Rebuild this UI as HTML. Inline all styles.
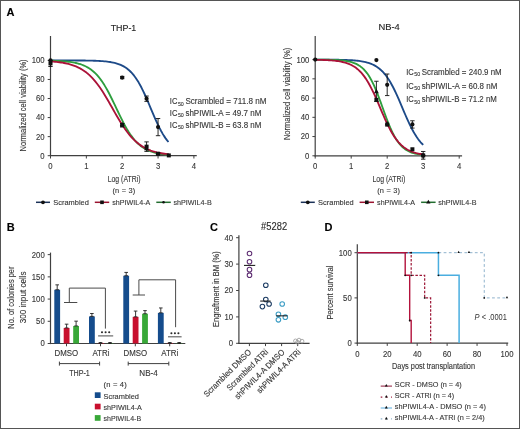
<!DOCTYPE html>
<html><head><meta charset="utf-8"><style>
html,body{margin:0;padding:0;background:#fff;}
svg{display:block;will-change:transform;}
text{font-family:"Liberation Sans", sans-serif;}
</style></head><body>
<svg width="520" height="429" viewBox="0 0 520 429" font-family='"Liberation Sans", sans-serif'>
<rect width="520" height="429" fill="#fff"/>
<rect x="0.5" y="0.5" width="519" height="428" fill="none" stroke="#555" stroke-width="1"/>
<text x="6.6" y="15.9" font-size="11" fill="#000" stroke="#000" stroke-width="0.12" font-weight="bold">A</text>
<text x="6.8" y="231" font-size="11" fill="#000" stroke="#000" stroke-width="0.12" font-weight="bold">B</text>
<text x="210" y="231.3" font-size="11" fill="#000" stroke="#000" stroke-width="0.12" font-weight="bold">C</text>
<text x="324.6" y="231.2" font-size="11" fill="#000" stroke="#000" stroke-width="0.12" font-weight="bold">D</text>
<line x1="50.5" y1="36" x2="50.5" y2="156.3" stroke="#404040" stroke-width="1.2"/>
<line x1="49.9" y1="155.7" x2="196.77" y2="155.7" stroke="#404040" stroke-width="1.2"/>
<line x1="47.7" y1="155.7" x2="50.5" y2="155.7" stroke="#404040" stroke-width="1"/>
<text x="44.6" y="158.6" font-size="8.3" fill="#363636" stroke="#363636" stroke-width="0.12" text-anchor="end" textLength="4.3" lengthAdjust="spacingAndGlyphs">0</text>
<line x1="47.7" y1="136.64" x2="50.5" y2="136.64" stroke="#404040" stroke-width="1"/>
<text x="44.6" y="139.54" font-size="8.3" fill="#363636" stroke="#363636" stroke-width="0.12" text-anchor="end" textLength="8.6" lengthAdjust="spacingAndGlyphs">20</text>
<line x1="47.7" y1="117.58" x2="50.5" y2="117.58" stroke="#404040" stroke-width="1"/>
<text x="44.6" y="120.48" font-size="8.3" fill="#363636" stroke="#363636" stroke-width="0.12" text-anchor="end" textLength="8.6" lengthAdjust="spacingAndGlyphs">40</text>
<line x1="47.7" y1="98.52" x2="50.5" y2="98.52" stroke="#404040" stroke-width="1"/>
<text x="44.6" y="101.42" font-size="8.3" fill="#363636" stroke="#363636" stroke-width="0.12" text-anchor="end" textLength="8.6" lengthAdjust="spacingAndGlyphs">60</text>
<line x1="47.7" y1="79.46" x2="50.5" y2="79.46" stroke="#404040" stroke-width="1"/>
<text x="44.6" y="82.36" font-size="8.3" fill="#363636" stroke="#363636" stroke-width="0.12" text-anchor="end" textLength="8.6" lengthAdjust="spacingAndGlyphs">80</text>
<line x1="47.7" y1="60.4" x2="50.5" y2="60.4" stroke="#404040" stroke-width="1"/>
<text x="44.6" y="63.3" font-size="8.3" fill="#363636" stroke="#363636" stroke-width="0.12" text-anchor="end" textLength="12.9" lengthAdjust="spacingAndGlyphs">100</text>
<line x1="50.5" y1="155.7" x2="50.5" y2="158.5" stroke="#404040" stroke-width="1"/>
<text x="50.5" y="168.8" font-size="8.3" fill="#363636" stroke="#363636" stroke-width="0.12" text-anchor="middle" textLength="4.3" lengthAdjust="spacingAndGlyphs">0</text>
<line x1="86.35" y1="155.7" x2="86.35" y2="158.5" stroke="#404040" stroke-width="1"/>
<text x="86.35" y="168.8" font-size="8.3" fill="#363636" stroke="#363636" stroke-width="0.12" text-anchor="middle" textLength="4.3" lengthAdjust="spacingAndGlyphs">1</text>
<line x1="122.2" y1="155.7" x2="122.2" y2="158.5" stroke="#404040" stroke-width="1"/>
<text x="122.2" y="168.8" font-size="8.3" fill="#363636" stroke="#363636" stroke-width="0.12" text-anchor="middle" textLength="4.3" lengthAdjust="spacingAndGlyphs">2</text>
<line x1="158.05" y1="155.7" x2="158.05" y2="158.5" stroke="#404040" stroke-width="1"/>
<text x="158.05" y="168.8" font-size="8.3" fill="#363636" stroke="#363636" stroke-width="0.12" text-anchor="middle" textLength="4.3" lengthAdjust="spacingAndGlyphs">3</text>
<line x1="193.9" y1="155.7" x2="193.9" y2="158.5" stroke="#404040" stroke-width="1"/>
<text x="193.9" y="168.8" font-size="8.3" fill="#363636" stroke="#363636" stroke-width="0.12" text-anchor="middle" textLength="4.3" lengthAdjust="spacingAndGlyphs">4</text>
<text x="110.7" y="31.1" font-size="9.6" fill="#222" stroke="#222" stroke-width="0.12" textLength="25.6" lengthAdjust="spacingAndGlyphs">THP-1</text>
<text x="26.2" y="105.4" font-size="8.4" fill="#363636" stroke="#363636" stroke-width="0.12" text-anchor="middle" textLength="92" lengthAdjust="spacingAndGlyphs" transform="rotate(-90 26.2 105.4)">Normalized cell viability (%)</text>
<text x="124.1" y="181.9" font-size="9.5" fill="#363636" stroke="#363636" stroke-width="0.12" text-anchor="middle" textLength="32.8" lengthAdjust="spacingAndGlyphs">Log (ATRi)</text>
<text x="123.8" y="193.3" font-size="7.4" fill="#363636" stroke="#363636" stroke-width="0.12" text-anchor="middle" textLength="22.8" lengthAdjust="spacing">(n = 3)</text>
<path d="M50.5,60.4 L51.99,60.4 L53.49,60.41 L54.98,60.41 L56.47,60.41 L57.96,60.41 L59.46,60.41 L60.95,60.41 L62.44,60.41 L63.94,60.42 L65.43,60.42 L66.92,60.42 L68.42,60.43 L69.91,60.43 L71.4,60.43 L72.89,60.44 L74.39,60.45 L75.88,60.45 L77.37,60.46 L78.87,60.47 L80.36,60.48 L81.85,60.5 L83.35,60.51 L84.84,60.53 L86.33,60.55 L87.82,60.58 L89.32,60.6 L90.81,60.64 L92.3,60.68 L93.8,60.72 L95.29,60.77 L96.78,60.83 L98.28,60.9 L99.77,60.98 L101.26,61.07 L102.75,61.18 L104.25,61.31 L105.74,61.45 L107.23,61.62 L108.73,61.81 L110.22,62.03 L111.71,62.29 L113.21,62.59 L114.7,62.93 L116.19,63.33 L117.68,63.79 L119.18,64.31 L120.67,64.91 L122.16,65.6 L123.66,66.39 L125.15,67.28 L126.64,68.3 L128.14,69.46 L129.63,70.76 L131.12,72.22 L132.61,73.86 L134.11,75.68 L135.6,77.7 L137.09,79.92 L138.59,82.35 L140.08,84.98 L141.57,87.8 L143.07,90.81 L144.56,93.99 L146.05,97.31 L147.54,100.74 L149.04,104.26 L150.53,107.81 L152.02,111.37 L153.52,114.9 L155.01,118.34 L156.5,121.68 L158,124.88 L159.49,127.91 L160.98,130.76 L162.47,133.42 L163.97,135.87 L165.46,138.12 L166.95,140.16 L168.45,142.01" stroke="#1d4a88" stroke-width="1.85" fill="none" stroke-linejoin="round"/>
<path d="M50.5,60.68 L52,60.72 L53.5,60.76 L54.99,60.82 L56.49,60.87 L57.99,60.94 L59.49,61.02 L60.98,61.11 L62.48,61.2 L63.98,61.32 L65.48,61.45 L66.97,61.59 L68.47,61.76 L69.97,61.95 L71.47,62.17 L72.96,62.41 L74.46,62.69 L75.96,63.01 L77.46,63.37 L78.95,63.77 L80.45,64.23 L81.95,64.75 L83.45,65.33 L84.94,65.99 L86.44,66.74 L87.94,67.57 L89.44,68.5 L90.93,69.54 L92.43,70.69 L93.93,71.98 L95.43,73.4 L96.92,74.96 L98.42,76.67 L99.92,78.54 L101.42,80.58 L102.91,82.77 L104.41,85.12 L105.91,87.62 L107.41,90.28 L108.9,93.06 L110.4,95.97 L111.9,98.98 L113.4,102.06 L114.89,105.19 L116.39,108.35 L117.89,111.51 L119.39,114.63 L120.88,117.7 L122.38,120.69 L123.88,123.58 L125.38,126.34 L126.87,128.96 L128.37,131.44 L129.87,133.76 L131.37,135.92 L132.86,137.92 L134.36,139.76 L135.86,141.45 L137.36,142.98 L138.85,144.38 L140.35,145.64 L141.85,146.77 L143.35,147.79 L144.84,148.7 L146.34,149.51 L147.84,150.24 L149.34,150.88 L150.83,151.45 L152.33,151.96 L153.83,152.41 L155.33,152.81 L156.82,153.16 L158.32,153.47 L159.82,153.74 L161.32,153.98 L162.81,154.19 L164.31,154.37 L165.81,154.54 L167.31,154.68 L168.81,154.8" stroke="#2e9e3e" stroke-width="1.85" fill="none" stroke-linejoin="round"/>
<path d="M50.5,61.36 L52,61.47 L53.5,61.6 L54.99,61.74 L56.49,61.89 L57.99,62.07 L59.49,62.26 L60.98,62.47 L62.48,62.71 L63.98,62.97 L65.48,63.26 L66.97,63.59 L68.47,63.95 L69.97,64.35 L71.47,64.79 L72.96,65.28 L74.46,65.82 L75.96,66.42 L77.46,67.08 L78.95,67.8 L80.45,68.6 L81.95,69.47 L83.45,70.42 L84.94,71.46 L86.44,72.6 L87.94,73.83 L89.44,75.16 L90.93,76.6 L92.43,78.15 L93.93,79.81 L95.43,81.59 L96.92,83.47 L98.42,85.47 L99.92,87.58 L101.42,89.79 L102.91,92.09 L104.41,94.48 L105.91,96.95 L107.41,99.49 L108.9,102.07 L110.4,104.69 L111.9,107.33 L113.4,109.98 L114.89,112.61 L116.39,115.22 L117.89,117.78 L119.39,120.29 L120.88,122.72 L122.38,125.07 L123.88,127.34 L125.38,129.5 L126.87,131.55 L128.37,133.5 L129.87,135.34 L131.37,137.06 L132.86,138.67 L134.36,140.17 L135.86,141.56 L137.36,142.85 L138.85,144.03 L140.35,145.12 L141.85,146.12 L143.35,147.04 L144.84,147.87 L146.34,148.64 L147.84,149.33 L149.34,149.96 L150.83,150.53 L152.33,151.05 L153.83,151.51 L155.33,151.94 L156.82,152.32 L158.32,152.66 L159.82,152.97 L161.32,153.25 L162.81,153.5 L164.31,153.73 L165.81,153.93 L167.31,154.12 L168.81,154.28" stroke="#ab1238" stroke-width="1.85" fill="none" stroke-linejoin="round"/>
<line x1="50.5" y1="60.4" x2="50.5" y2="66.5" stroke="#111" stroke-width="0.9"/>
<line x1="48.3" y1="60.4" x2="52.7" y2="60.4" stroke="#111" stroke-width="0.9"/>
<line x1="48.3" y1="66.5" x2="52.7" y2="66.5" stroke="#111" stroke-width="0.9"/>
<rect x="48.5" y="61.45" width="4" height="4" fill="#111"/>
<circle cx="50.5" cy="60.4" r="2.1" fill="#111" stroke="none" stroke-width="1"/>
<line x1="122.2" y1="76.41" x2="122.2" y2="78.7" stroke="#111" stroke-width="0.9"/>
<line x1="120" y1="76.41" x2="124.4" y2="76.41" stroke="#111" stroke-width="0.9"/>
<line x1="120" y1="78.7" x2="124.4" y2="78.7" stroke="#111" stroke-width="0.9"/>
<circle cx="122.2" cy="77.55" r="2.1" fill="#111" stroke="none" stroke-width="1"/>
<line x1="146.58" y1="96.04" x2="146.58" y2="101.38" stroke="#111" stroke-width="0.9"/>
<line x1="144.38" y1="96.04" x2="148.78" y2="96.04" stroke="#111" stroke-width="0.9"/>
<line x1="144.38" y1="101.38" x2="148.78" y2="101.38" stroke="#111" stroke-width="0.9"/>
<circle cx="146.58" cy="98.71" r="2.1" fill="#111" stroke="none" stroke-width="1"/>
<line x1="158.05" y1="118.53" x2="158.05" y2="135.69" stroke="#111" stroke-width="0.9"/>
<line x1="155.85" y1="118.53" x2="160.25" y2="118.53" stroke="#111" stroke-width="0.9"/>
<line x1="155.85" y1="135.69" x2="160.25" y2="135.69" stroke="#111" stroke-width="0.9"/>
<circle cx="158.05" cy="127.11" r="2.1" fill="#111" stroke="none" stroke-width="1"/>
<line x1="122.2" y1="123.49" x2="122.2" y2="126.92" stroke="#111" stroke-width="0.9"/>
<line x1="120" y1="123.49" x2="124.4" y2="123.49" stroke="#111" stroke-width="0.9"/>
<line x1="120" y1="126.92" x2="124.4" y2="126.92" stroke="#111" stroke-width="0.9"/>
<rect x="120.2" y="123.2" width="4" height="4" fill="#111"/>
<path d="M122.2,121.65 L124.6,126.05 L119.8,126.05 Z" stroke="none" stroke-width="1" fill="#111"/>
<line x1="146.58" y1="141.88" x2="146.58" y2="151.41" stroke="#111" stroke-width="0.9"/>
<line x1="144.38" y1="141.88" x2="148.78" y2="141.88" stroke="#111" stroke-width="0.9"/>
<line x1="144.38" y1="151.41" x2="148.78" y2="151.41" stroke="#111" stroke-width="0.9"/>
<rect x="144.58" y="144.65" width="4" height="4" fill="#111"/>
<path d="M146.58,145.95 L148.98,150.35 L144.18,150.35 Z" stroke="none" stroke-width="1" fill="#111"/>
<line x1="158.05" y1="153.03" x2="158.05" y2="154.56" stroke="#111" stroke-width="0.9"/>
<line x1="155.85" y1="153.03" x2="160.25" y2="153.03" stroke="#111" stroke-width="0.9"/>
<line x1="155.85" y1="154.56" x2="160.25" y2="154.56" stroke="#111" stroke-width="0.9"/>
<rect x="156.05" y="151.79" width="4" height="4" fill="#111"/>
<rect x="166.81" y="153.41" width="4" height="4" fill="#111"/>
<text x="169.8" y="104.2" font-size="8.4" fill="#363636" stroke="#363636" stroke-width="0.12" textLength="7.6" lengthAdjust="spacingAndGlyphs">IC</text>
<text x="177.9" y="105.6" font-size="6.0" fill="#363636" stroke="#363636" stroke-width="0.12" textLength="5.9" lengthAdjust="spacingAndGlyphs">50</text>
<text x="185.4" y="104.2" font-size="8.4" fill="#363636" stroke="#363636" stroke-width="0.12" textLength="81" lengthAdjust="spacingAndGlyphs">Scrambled = 711.8 nM</text>
<text x="169.8" y="115.95" font-size="8.4" fill="#363636" stroke="#363636" stroke-width="0.12" textLength="7.6" lengthAdjust="spacingAndGlyphs">IC</text>
<text x="177.9" y="117.35" font-size="6.0" fill="#363636" stroke="#363636" stroke-width="0.12" textLength="5.9" lengthAdjust="spacingAndGlyphs">50</text>
<text x="185.4" y="115.95" font-size="8.4" fill="#363636" stroke="#363636" stroke-width="0.12" textLength="76" lengthAdjust="spacingAndGlyphs">shPIWIL-A = 49.7 nM</text>
<text x="169.8" y="127.7" font-size="8.4" fill="#363636" stroke="#363636" stroke-width="0.12" textLength="7.6" lengthAdjust="spacingAndGlyphs">IC</text>
<text x="177.9" y="129.1" font-size="6.0" fill="#363636" stroke="#363636" stroke-width="0.12" textLength="5.9" lengthAdjust="spacingAndGlyphs">50</text>
<text x="185.4" y="127.7" font-size="8.4" fill="#363636" stroke="#363636" stroke-width="0.12" textLength="76" lengthAdjust="spacingAndGlyphs">shPIWIL-B = 63.8 nM</text>
<line x1="36" y1="202.3" x2="50" y2="202.3" stroke="#1b3258" stroke-width="1.5"/>
<circle cx="43" cy="202.3" r="1.89" fill="#111" stroke="none" stroke-width="1"/>
<text x="53.3" y="205.1" font-size="8" fill="#363636" stroke="#363636" stroke-width="0.12" textLength="35.6" lengthAdjust="spacingAndGlyphs">Scrambled</text>
<line x1="94.8" y1="202.3" x2="109.2" y2="202.3" stroke="#9a1430" stroke-width="1.5"/>
<rect x="100.2" y="200.5" width="3.6" height="3.6" fill="#111"/>
<text x="112.3" y="205.1" font-size="8" fill="#363636" stroke="#363636" stroke-width="0.12" textLength="38" lengthAdjust="spacingAndGlyphs">shPIWIL4-A</text>
<line x1="156.3" y1="202.3" x2="170.8" y2="202.3" stroke="#236e30" stroke-width="1.5"/>
<circle cx="163.55" cy="202.3" r="1.3" fill="#111" stroke="none" stroke-width="1"/>
<text x="173.4" y="205.1" font-size="8" fill="#363636" stroke="#363636" stroke-width="0.12" textLength="38.3" lengthAdjust="spacingAndGlyphs">shPIWIL4-B</text>
<line x1="315.2" y1="36" x2="315.2" y2="156.4" stroke="#404040" stroke-width="1.2"/>
<line x1="314.6" y1="155.8" x2="462.08" y2="155.8" stroke="#404040" stroke-width="1.2"/>
<line x1="312.4" y1="155.8" x2="315.2" y2="155.8" stroke="#404040" stroke-width="1"/>
<text x="309.3" y="158.7" font-size="8.3" fill="#363636" stroke="#363636" stroke-width="0.12" text-anchor="end" textLength="4.3" lengthAdjust="spacingAndGlyphs">0</text>
<line x1="312.4" y1="136.56" x2="315.2" y2="136.56" stroke="#404040" stroke-width="1"/>
<text x="309.3" y="139.46" font-size="8.3" fill="#363636" stroke="#363636" stroke-width="0.12" text-anchor="end" textLength="8.6" lengthAdjust="spacingAndGlyphs">20</text>
<line x1="312.4" y1="117.32" x2="315.2" y2="117.32" stroke="#404040" stroke-width="1"/>
<text x="309.3" y="120.22" font-size="8.3" fill="#363636" stroke="#363636" stroke-width="0.12" text-anchor="end" textLength="8.6" lengthAdjust="spacingAndGlyphs">40</text>
<line x1="312.4" y1="98.08" x2="315.2" y2="98.08" stroke="#404040" stroke-width="1"/>
<text x="309.3" y="100.98" font-size="8.3" fill="#363636" stroke="#363636" stroke-width="0.12" text-anchor="end" textLength="8.6" lengthAdjust="spacingAndGlyphs">60</text>
<line x1="312.4" y1="78.84" x2="315.2" y2="78.84" stroke="#404040" stroke-width="1"/>
<text x="309.3" y="81.74" font-size="8.3" fill="#363636" stroke="#363636" stroke-width="0.12" text-anchor="end" textLength="8.6" lengthAdjust="spacingAndGlyphs">80</text>
<line x1="312.4" y1="59.6" x2="315.2" y2="59.6" stroke="#404040" stroke-width="1"/>
<text x="309.3" y="62.5" font-size="8.3" fill="#363636" stroke="#363636" stroke-width="0.12" text-anchor="end" textLength="12.9" lengthAdjust="spacingAndGlyphs">100</text>
<line x1="315.2" y1="155.8" x2="315.2" y2="158.6" stroke="#404040" stroke-width="1"/>
<text x="315.2" y="168.9" font-size="8.3" fill="#363636" stroke="#363636" stroke-width="0.12" text-anchor="middle" textLength="4.3" lengthAdjust="spacingAndGlyphs">0</text>
<line x1="351.2" y1="155.8" x2="351.2" y2="158.6" stroke="#404040" stroke-width="1"/>
<text x="351.2" y="168.9" font-size="8.3" fill="#363636" stroke="#363636" stroke-width="0.12" text-anchor="middle" textLength="4.3" lengthAdjust="spacingAndGlyphs">1</text>
<line x1="387.2" y1="155.8" x2="387.2" y2="158.6" stroke="#404040" stroke-width="1"/>
<text x="387.2" y="168.9" font-size="8.3" fill="#363636" stroke="#363636" stroke-width="0.12" text-anchor="middle" textLength="4.3" lengthAdjust="spacingAndGlyphs">2</text>
<line x1="423.2" y1="155.8" x2="423.2" y2="158.6" stroke="#404040" stroke-width="1"/>
<text x="423.2" y="168.9" font-size="8.3" fill="#363636" stroke="#363636" stroke-width="0.12" text-anchor="middle" textLength="4.3" lengthAdjust="spacingAndGlyphs">3</text>
<line x1="459.2" y1="155.8" x2="459.2" y2="158.6" stroke="#404040" stroke-width="1"/>
<text x="459.2" y="168.9" font-size="8.3" fill="#363636" stroke="#363636" stroke-width="0.12" text-anchor="middle" textLength="4.3" lengthAdjust="spacingAndGlyphs">4</text>
<text x="378.4" y="30.1" font-size="9.6" fill="#222" stroke="#222" stroke-width="0.12" textLength="21.4" lengthAdjust="spacingAndGlyphs">NB-4</text>
<text x="290.4" y="93.9" font-size="8.4" fill="#363636" stroke="#363636" stroke-width="0.12" text-anchor="middle" textLength="92.4" lengthAdjust="spacingAndGlyphs" transform="rotate(-90 290.4 93.9)">Normalized cell viability (%)</text>
<text x="388.9" y="181.9" font-size="9.5" fill="#363636" stroke="#363636" stroke-width="0.12" text-anchor="middle" textLength="32.8" lengthAdjust="spacingAndGlyphs">Log (ATRi)</text>
<text x="388.6" y="193.3" font-size="7.4" fill="#363636" stroke="#363636" stroke-width="0.12" text-anchor="middle" textLength="22.8" lengthAdjust="spacing">(n = 3)</text>
<path d="M315.2,59.62 L316.57,59.62 L317.93,59.62 L319.3,59.63 L320.67,59.63 L322.04,59.64 L323.4,59.64 L324.77,59.65 L326.14,59.65 L327.5,59.66 L328.87,59.67 L330.24,59.68 L331.61,59.69 L332.97,59.7 L334.34,59.72 L335.71,59.74 L337.07,59.76 L338.44,59.78 L339.81,59.8 L341.17,59.83 L342.54,59.87 L343.91,59.9 L345.28,59.95 L346.64,60 L348.01,60.05 L349.38,60.12 L350.74,60.19 L352.11,60.28 L353.48,60.38 L354.85,60.49 L356.21,60.61 L357.58,60.76 L358.95,60.92 L360.31,61.11 L361.68,61.33 L363.05,61.57 L364.42,61.85 L365.78,62.16 L367.15,62.52 L368.52,62.93 L369.88,63.39 L371.25,63.91 L372.62,64.5 L373.98,65.16 L375.35,65.91 L376.72,66.75 L378.09,67.7 L379.45,68.75 L380.82,69.93 L382.19,71.24 L383.55,72.69 L384.92,74.29 L386.29,76.04 L387.66,77.96 L389.02,80.04 L390.39,82.3 L391.76,84.71 L393.12,87.29 L394.49,90.02 L395.86,92.89 L397.23,95.88 L398.59,98.97 L399.96,102.13 L401.33,105.35 L402.69,108.59 L404.06,111.81 L405.43,115.01 L406.79,118.13 L408.16,121.17 L409.53,124.09 L410.9,126.89 L412.26,129.54 L413.63,132.03 L415,134.35 L416.36,136.52 L417.73,138.51 L419.1,140.34 L420.47,142.01 L421.83,143.52 L423.2,144.89" stroke="#1d4a88" stroke-width="1.85" fill="none" stroke-linejoin="round"/>
<path d="M315.2,59.64 L316.57,59.65 L317.93,59.65 L319.3,59.66 L320.67,59.67 L322.04,59.69 L323.4,59.7 L324.77,59.72 L326.14,59.74 L327.5,59.76 L328.87,59.79 L330.24,59.82 L331.61,59.86 L332.97,59.91 L334.34,59.96 L335.71,60.02 L337.07,60.09 L338.44,60.17 L339.81,60.27 L341.17,60.39 L342.54,60.52 L343.91,60.68 L345.28,60.86 L346.64,61.07 L348.01,61.32 L349.38,61.61 L350.74,61.94 L352.11,62.33 L353.48,62.78 L354.85,63.31 L356.21,63.92 L357.58,64.62 L358.95,65.43 L360.31,66.36 L361.68,67.42 L363.05,68.63 L364.42,70.02 L365.78,71.58 L367.15,73.34 L368.52,75.31 L369.88,77.5 L371.25,79.93 L372.62,82.58 L373.98,85.46 L375.35,88.56 L376.72,91.86 L378.09,95.34 L379.45,98.96 L380.82,102.69 L382.19,106.47 L383.55,110.28 L384.92,114.05 L386.29,117.74 L387.66,121.32 L389.02,124.73 L390.39,127.97 L391.76,130.99 L393.12,133.79 L394.49,136.36 L395.86,138.7 L397.23,140.81 L398.59,142.71 L399.96,144.4 L401.33,145.89 L402.69,147.22 L404.06,148.37 L405.43,149.39 L406.79,150.27 L408.16,151.04 L409.53,151.71 L410.9,152.29 L412.26,152.78 L413.63,153.21 L415,153.58 L416.36,153.9 L417.73,154.18 L419.1,154.41 L420.47,154.61 L421.83,154.78 L423.2,154.93" stroke="#2e9e3e" stroke-width="1.85" fill="none" stroke-linejoin="round"/>
<path d="M315.2,59.77 L316.57,59.79 L317.93,59.82 L319.3,59.85 L320.67,59.89 L322.04,59.93 L323.4,59.97 L324.77,60.03 L326.14,60.09 L327.5,60.16 L328.87,60.23 L330.24,60.33 L331.61,60.43 L332.97,60.55 L334.34,60.68 L335.71,60.83 L337.07,61.01 L338.44,61.2 L339.81,61.43 L341.17,61.68 L342.54,61.98 L343.91,62.31 L345.28,62.68 L346.64,63.11 L348.01,63.59 L349.38,64.13 L350.74,64.74 L352.11,65.44 L353.48,66.21 L354.85,67.09 L356.21,68.06 L357.58,69.16 L358.95,70.37 L360.31,71.72 L361.68,73.21 L363.05,74.85 L364.42,76.64 L365.78,78.6 L367.15,80.72 L368.52,83.01 L369.88,85.46 L371.25,88.07 L372.62,90.82 L373.98,93.71 L375.35,96.7 L376.72,99.8 L378.09,102.96 L379.45,106.16 L380.82,109.38 L382.19,112.58 L383.55,115.74 L384.92,118.82 L386.29,121.82 L387.66,124.7 L389.02,127.44 L390.39,130.04 L391.76,132.49 L393.12,134.77 L394.49,136.88 L395.86,138.84 L397.23,140.62 L398.59,142.26 L399.96,143.74 L401.33,145.08 L402.69,146.29 L404.06,147.38 L405.43,148.35 L406.79,149.22 L408.16,149.99 L409.53,150.68 L410.9,151.29 L412.26,151.83 L413.63,152.31 L415,152.74 L416.36,153.11 L417.73,153.44 L419.1,153.73 L420.47,153.98 L421.83,154.21 L423.2,154.4" stroke="#ab1238" stroke-width="1.85" fill="none" stroke-linejoin="round"/>
<circle cx="315.2" cy="59.6" r="2.1" fill="#111" stroke="none" stroke-width="1"/>
<circle cx="376.4" cy="60.08" r="2.1" fill="#111" stroke="none" stroke-width="1"/>
<line x1="376.4" y1="81.25" x2="376.4" y2="101.45" stroke="#111" stroke-width="0.9"/>
<line x1="374.2" y1="81.25" x2="378.6" y2="81.25" stroke="#111" stroke-width="0.9"/>
<line x1="374.2" y1="101.45" x2="378.6" y2="101.45" stroke="#111" stroke-width="0.9"/>
<path d="M376.4,88.75 L378.8,93.15 L374,93.15 Z" stroke="none" stroke-width="1" fill="#111"/>
<rect x="374.4" y="97.81" width="4" height="4" fill="#111"/>
<line x1="387.2" y1="74.03" x2="387.2" y2="95.58" stroke="#111" stroke-width="0.9"/>
<line x1="385" y1="74.03" x2="389.4" y2="74.03" stroke="#111" stroke-width="0.9"/>
<line x1="385" y1="95.58" x2="389.4" y2="95.58" stroke="#111" stroke-width="0.9"/>
<circle cx="387.2" cy="84.8" r="2.1" fill="#111" stroke="none" stroke-width="1"/>
<rect x="385.2" y="122.63" width="4" height="4" fill="#111"/>
<path d="M387.2,120.97 L389.6,125.37 L384.8,125.37 Z" stroke="none" stroke-width="1" fill="#111"/>
<line x1="412.4" y1="120.78" x2="412.4" y2="128.09" stroke="#111" stroke-width="0.9"/>
<line x1="410.2" y1="120.78" x2="414.6" y2="120.78" stroke="#111" stroke-width="0.9"/>
<line x1="410.2" y1="128.09" x2="414.6" y2="128.09" stroke="#111" stroke-width="0.9"/>
<circle cx="412.4" cy="124.44" r="2.1" fill="#111" stroke="none" stroke-width="1"/>
<rect x="410.4" y="147.26" width="4" height="4" fill="#111"/>
<line x1="423.2" y1="151.47" x2="423.2" y2="159.17" stroke="#111" stroke-width="0.9"/>
<line x1="421" y1="151.47" x2="425.4" y2="151.47" stroke="#111" stroke-width="0.9"/>
<line x1="421" y1="159.17" x2="425.4" y2="159.17" stroke="#111" stroke-width="0.9"/>
<circle cx="423.2" cy="155.32" r="2.1" fill="#111" stroke="none" stroke-width="1"/>
<rect x="421.2" y="153.51" width="4" height="4" fill="#111"/>
<text x="406.2" y="75" font-size="8.4" fill="#363636" stroke="#363636" stroke-width="0.12" textLength="7.6" lengthAdjust="spacingAndGlyphs">IC</text>
<text x="414.3" y="76.4" font-size="6.0" fill="#363636" stroke="#363636" stroke-width="0.12" textLength="5.9" lengthAdjust="spacingAndGlyphs">50</text>
<text x="421.8" y="75" font-size="8.4" fill="#363636" stroke="#363636" stroke-width="0.12" textLength="79.9" lengthAdjust="spacingAndGlyphs">Scrambled = 240.9 nM</text>
<text x="406.2" y="88.65" font-size="8.4" fill="#363636" stroke="#363636" stroke-width="0.12" textLength="7.6" lengthAdjust="spacingAndGlyphs">IC</text>
<text x="414.3" y="90.05" font-size="6.0" fill="#363636" stroke="#363636" stroke-width="0.12" textLength="5.9" lengthAdjust="spacingAndGlyphs">50</text>
<text x="421.8" y="88.65" font-size="8.4" fill="#363636" stroke="#363636" stroke-width="0.12" textLength="75.5" lengthAdjust="spacingAndGlyphs">shPIWIL-A = 60.8 nM</text>
<text x="406.2" y="102.3" font-size="8.4" fill="#363636" stroke="#363636" stroke-width="0.12" textLength="7.6" lengthAdjust="spacingAndGlyphs">IC</text>
<text x="414.3" y="103.7" font-size="6.0" fill="#363636" stroke="#363636" stroke-width="0.12" textLength="5.9" lengthAdjust="spacingAndGlyphs">50</text>
<text x="421.8" y="102.3" font-size="8.4" fill="#363636" stroke="#363636" stroke-width="0.12" textLength="75.1" lengthAdjust="spacingAndGlyphs">shPIWIL-B = 71.2 nM</text>
<line x1="300.8" y1="202.3" x2="314.8" y2="202.3" stroke="#1b3258" stroke-width="1.5"/>
<circle cx="307.8" cy="202.3" r="1.89" fill="#111" stroke="none" stroke-width="1"/>
<text x="318.1" y="205.1" font-size="8" fill="#363636" stroke="#363636" stroke-width="0.12" textLength="35.6" lengthAdjust="spacingAndGlyphs">Scrambled</text>
<line x1="359.6" y1="202.3" x2="374" y2="202.3" stroke="#9a1430" stroke-width="1.5"/>
<rect x="365" y="200.5" width="3.6" height="3.6" fill="#111"/>
<text x="377.1" y="205.1" font-size="8" fill="#363636" stroke="#363636" stroke-width="0.12" textLength="38" lengthAdjust="spacingAndGlyphs">shPIWIL4-A</text>
<line x1="421.1" y1="202.3" x2="435.6" y2="202.3" stroke="#236e30" stroke-width="1.5"/>
<path d="M428.35,199.66 L430.51,203.62 L426.19,203.62 Z" stroke="none" stroke-width="1" fill="#111"/>
<text x="438.2" y="205.1" font-size="8" fill="#363636" stroke="#363636" stroke-width="0.12" textLength="38.3" lengthAdjust="spacingAndGlyphs">shPIWIL4-B</text>
<line x1="50.5" y1="252.6" x2="50.5" y2="344.1" stroke="#404040" stroke-width="1.2"/>
<line x1="49.9" y1="343.5" x2="185.3" y2="343.5" stroke="#404040" stroke-width="1.2"/>
<line x1="47.7" y1="343.5" x2="50.5" y2="343.5" stroke="#404040" stroke-width="1"/>
<text x="44.7" y="346.4" font-size="8.3" fill="#363636" stroke="#363636" stroke-width="0.12" text-anchor="end" textLength="4.3" lengthAdjust="spacingAndGlyphs">0</text>
<line x1="47.7" y1="321.29" x2="50.5" y2="321.29" stroke="#404040" stroke-width="1"/>
<text x="44.7" y="324.19" font-size="8.3" fill="#363636" stroke="#363636" stroke-width="0.12" text-anchor="end" textLength="8.6" lengthAdjust="spacingAndGlyphs">50</text>
<line x1="47.7" y1="299.07" x2="50.5" y2="299.07" stroke="#404040" stroke-width="1"/>
<text x="44.7" y="301.97" font-size="8.3" fill="#363636" stroke="#363636" stroke-width="0.12" text-anchor="end" textLength="12.9" lengthAdjust="spacingAndGlyphs">100</text>
<line x1="47.7" y1="276.86" x2="50.5" y2="276.86" stroke="#404040" stroke-width="1"/>
<text x="44.7" y="279.75" font-size="8.3" fill="#363636" stroke="#363636" stroke-width="0.12" text-anchor="end" textLength="12.9" lengthAdjust="spacingAndGlyphs">150</text>
<line x1="47.7" y1="254.64" x2="50.5" y2="254.64" stroke="#404040" stroke-width="1"/>
<text x="44.7" y="257.54" font-size="8.3" fill="#363636" stroke="#363636" stroke-width="0.12" text-anchor="end" textLength="12.9" lengthAdjust="spacingAndGlyphs">200</text>
<text x="14.3" y="297.6" font-size="8.6" fill="#363636" stroke="#363636" stroke-width="0.12" text-anchor="middle" textLength="62.2" lengthAdjust="spacingAndGlyphs" transform="rotate(-90 14.3 297.6)">No. of colonies per</text>
<text x="25.9" y="297.3" font-size="8.6" fill="#363636" stroke="#363636" stroke-width="0.12" text-anchor="middle" textLength="51.8" lengthAdjust="spacingAndGlyphs" transform="rotate(-90 25.9 297.3)">300 input cells</text>
<rect x="54.3" y="289.74" width="5.8" height="53.76" fill="#154c8c"/>
<line x1="57.2" y1="284.85" x2="57.2" y2="289.74" stroke="#222" stroke-width="0.9"/>
<line x1="55.4" y1="284.85" x2="59" y2="284.85" stroke="#222" stroke-width="0.9"/>
<line x1="55.4" y1="289.74" x2="59" y2="289.74" stroke="#222" stroke-width="0.9"/>
<rect x="63.7" y="327.95" width="5.8" height="15.55" fill="#c8102e"/>
<line x1="66.6" y1="324.17" x2="66.6" y2="327.95" stroke="#222" stroke-width="0.9"/>
<line x1="64.8" y1="324.17" x2="68.4" y2="324.17" stroke="#222" stroke-width="0.9"/>
<line x1="64.8" y1="327.95" x2="68.4" y2="327.95" stroke="#222" stroke-width="0.9"/>
<rect x="73.2" y="325.95" width="5.8" height="17.55" fill="#38a838"/>
<line x1="76.1" y1="321.15" x2="76.1" y2="325.95" stroke="#222" stroke-width="0.9"/>
<line x1="74.3" y1="321.15" x2="77.9" y2="321.15" stroke="#222" stroke-width="0.9"/>
<line x1="74.3" y1="325.95" x2="77.9" y2="325.95" stroke="#222" stroke-width="0.9"/>
<rect x="89" y="316.4" width="5.8" height="27.1" fill="#154c8c"/>
<line x1="91.9" y1="313.51" x2="91.9" y2="316.4" stroke="#222" stroke-width="0.9"/>
<line x1="90.1" y1="313.51" x2="93.7" y2="313.51" stroke="#222" stroke-width="0.9"/>
<line x1="90.1" y1="316.4" x2="93.7" y2="316.4" stroke="#222" stroke-width="0.9"/>
<rect x="98.3" y="342.97" width="5.8" height="0.53" fill="#c8102e"/>
<rect x="107.6" y="343.14" width="5.8" height="0.36" fill="#38a838"/>
<rect x="123.3" y="275.74" width="5.8" height="67.76" fill="#154c8c"/>
<line x1="126.2" y1="272.41" x2="126.2" y2="275.74" stroke="#222" stroke-width="0.9"/>
<line x1="124.4" y1="272.41" x2="128" y2="272.41" stroke="#222" stroke-width="0.9"/>
<line x1="124.4" y1="275.74" x2="128" y2="275.74" stroke="#222" stroke-width="0.9"/>
<rect x="132.7" y="316.84" width="5.8" height="26.66" fill="#c8102e"/>
<line x1="135.6" y1="311.07" x2="135.6" y2="316.84" stroke="#222" stroke-width="0.9"/>
<line x1="133.8" y1="311.07" x2="137.4" y2="311.07" stroke="#222" stroke-width="0.9"/>
<line x1="133.8" y1="316.84" x2="137.4" y2="316.84" stroke="#222" stroke-width="0.9"/>
<rect x="142.1" y="313.73" width="5.8" height="29.77" fill="#38a838"/>
<line x1="145" y1="310.62" x2="145" y2="313.73" stroke="#222" stroke-width="0.9"/>
<line x1="143.2" y1="310.62" x2="146.8" y2="310.62" stroke="#222" stroke-width="0.9"/>
<line x1="143.2" y1="313.73" x2="146.8" y2="313.73" stroke="#222" stroke-width="0.9"/>
<rect x="157.9" y="312.84" width="5.8" height="30.66" fill="#154c8c"/>
<line x1="160.8" y1="307.96" x2="160.8" y2="312.84" stroke="#222" stroke-width="0.9"/>
<line x1="159" y1="307.96" x2="162.6" y2="307.96" stroke="#222" stroke-width="0.9"/>
<line x1="159" y1="312.84" x2="162.6" y2="312.84" stroke="#222" stroke-width="0.9"/>
<rect x="167.2" y="342.97" width="5.8" height="0.53" fill="#c8102e"/>
<rect x="176.5" y="343.14" width="5.8" height="0.36" fill="#38a838"/>
<ellipse cx="100.5" cy="342.9" rx="2.2" ry="1" fill="#222"/>
<ellipse cx="110" cy="342.9" rx="2.2" ry="1" fill="#222"/>
<ellipse cx="169.8" cy="342.9" rx="2.2" ry="1" fill="#222"/>
<ellipse cx="179.2" cy="342.9" rx="2.2" ry="1" fill="#222"/>
<line x1="66.5" y1="343.5" x2="66.5" y2="346.3" stroke="#404040" stroke-width="1"/>
<line x1="100.5" y1="343.5" x2="100.5" y2="346.3" stroke="#404040" stroke-width="1"/>
<line x1="135.3" y1="343.5" x2="135.3" y2="346.3" stroke="#404040" stroke-width="1"/>
<line x1="169.7" y1="343.5" x2="169.7" y2="346.3" stroke="#404040" stroke-width="1"/>
<text x="66.4" y="356.3" font-size="8.2" fill="#363636" stroke="#363636" stroke-width="0.12" text-anchor="middle" textLength="23.6" lengthAdjust="spacingAndGlyphs">DMSO</text>
<text x="100.9" y="356.3" font-size="8.2" fill="#363636" stroke="#363636" stroke-width="0.12" text-anchor="middle" textLength="17" lengthAdjust="spacingAndGlyphs">ATRi</text>
<text x="135.4" y="356.3" font-size="8.2" fill="#363636" stroke="#363636" stroke-width="0.12" text-anchor="middle" textLength="23.6" lengthAdjust="spacingAndGlyphs">DMSO</text>
<text x="169.7" y="356.3" font-size="8.2" fill="#363636" stroke="#363636" stroke-width="0.12" text-anchor="middle" textLength="17" lengthAdjust="spacingAndGlyphs">ATRi</text>
<line x1="59.4" y1="363.6" x2="99.6" y2="363.6" stroke="#404040" stroke-width="1"/>
<line x1="59.4" y1="361.6" x2="59.4" y2="365.6" stroke="#404040" stroke-width="1"/>
<line x1="99.6" y1="361.6" x2="99.6" y2="365.6" stroke="#404040" stroke-width="1"/>
<text x="79.5" y="375.6" font-size="8.4" fill="#363636" stroke="#363636" stroke-width="0.12" text-anchor="middle" textLength="20.6" lengthAdjust="spacingAndGlyphs">THP-1</text>
<line x1="128.2" y1="363.6" x2="168.8" y2="363.6" stroke="#404040" stroke-width="1"/>
<line x1="128.2" y1="361.6" x2="128.2" y2="365.6" stroke="#404040" stroke-width="1"/>
<line x1="168.8" y1="361.6" x2="168.8" y2="365.6" stroke="#404040" stroke-width="1"/>
<text x="148.5" y="375.6" font-size="8.4" fill="#363636" stroke="#363636" stroke-width="0.12" text-anchor="middle" textLength="18.4" lengthAdjust="spacingAndGlyphs">NB-4</text>
<path d="M69.3,302.5 L69.3,288.1 L105.4,288.1 L105.4,328.6" stroke="#4a4a4a" stroke-width="1" fill="none"/>
<line x1="64" y1="302.5" x2="77.3" y2="302.5" stroke="#4a4a4a" stroke-width="1"/>
<line x1="98.1" y1="335.9" x2="113.2" y2="335.9" stroke="#5a5a5a" stroke-width="1.1"/>
<circle cx="102" cy="332.2" r="1.05" fill="#2a2a2a" stroke="none" stroke-width="1"/>
<circle cx="105.6" cy="332.2" r="1.05" fill="#2a2a2a" stroke="none" stroke-width="1"/>
<circle cx="109.2" cy="332.2" r="1.05" fill="#2a2a2a" stroke="none" stroke-width="1"/>
<path d="M138.9,295 L138.9,279.8 L175.6,279.8 L175.6,327.2" stroke="#4a4a4a" stroke-width="1" fill="none"/>
<line x1="132.7" y1="295" x2="145" y2="295" stroke="#4a4a4a" stroke-width="1"/>
<line x1="168" y1="336.8" x2="181.6" y2="336.8" stroke="#5a5a5a" stroke-width="1.1"/>
<circle cx="171.4" cy="333.3" r="1.05" fill="#2a2a2a" stroke="none" stroke-width="1"/>
<circle cx="174.9" cy="333.3" r="1.05" fill="#2a2a2a" stroke="none" stroke-width="1"/>
<circle cx="178.4" cy="333.3" r="1.05" fill="#2a2a2a" stroke="none" stroke-width="1"/>
<text x="103.6" y="387.3" font-size="7.6" fill="#363636" stroke="#363636" stroke-width="0.12" textLength="23.2" lengthAdjust="spacing">(n = 4)</text>
<rect x="94.8" y="392.3" width="5.8" height="5.7" fill="#154c8c"/>
<text x="103.5" y="398.6" font-size="8" fill="#363636" stroke="#363636" stroke-width="0.12" textLength="35.4" lengthAdjust="spacingAndGlyphs">Scrambled</text>
<rect x="94.8" y="403.7" width="5.8" height="5.7" fill="#c8102e"/>
<text x="103.5" y="410" font-size="8" fill="#363636" stroke="#363636" stroke-width="0.12" textLength="38.4" lengthAdjust="spacingAndGlyphs">shPIWIL4-A</text>
<rect x="94.8" y="415.1" width="5.8" height="5.7" fill="#38a838"/>
<text x="103.5" y="421.4" font-size="8" fill="#363636" stroke="#363636" stroke-width="0.12" textLength="37.6" lengthAdjust="spacingAndGlyphs">shPIWIL4-B</text>
<line x1="238.9" y1="235.2" x2="238.9" y2="343.9" stroke="#404040" stroke-width="1.2"/>
<line x1="238.3" y1="343.3" x2="309.6" y2="343.3" stroke="#404040" stroke-width="1.2"/>
<line x1="236.1" y1="343.3" x2="238.9" y2="343.3" stroke="#404040" stroke-width="1"/>
<text x="233" y="346.2" font-size="8.3" fill="#363636" stroke="#363636" stroke-width="0.12" text-anchor="end" textLength="4.3" lengthAdjust="spacingAndGlyphs">0</text>
<line x1="236.1" y1="316.9" x2="238.9" y2="316.9" stroke="#404040" stroke-width="1"/>
<text x="233" y="319.8" font-size="8.3" fill="#363636" stroke="#363636" stroke-width="0.12" text-anchor="end" textLength="8.6" lengthAdjust="spacingAndGlyphs">10</text>
<line x1="236.1" y1="290.5" x2="238.9" y2="290.5" stroke="#404040" stroke-width="1"/>
<text x="233" y="293.4" font-size="8.3" fill="#363636" stroke="#363636" stroke-width="0.12" text-anchor="end" textLength="8.6" lengthAdjust="spacingAndGlyphs">20</text>
<line x1="236.1" y1="264.1" x2="238.9" y2="264.1" stroke="#404040" stroke-width="1"/>
<text x="233" y="267" font-size="8.3" fill="#363636" stroke="#363636" stroke-width="0.12" text-anchor="end" textLength="8.6" lengthAdjust="spacingAndGlyphs">30</text>
<line x1="236.1" y1="237.7" x2="238.9" y2="237.7" stroke="#404040" stroke-width="1"/>
<text x="233" y="240.6" font-size="8.3" fill="#363636" stroke="#363636" stroke-width="0.12" text-anchor="end" textLength="8.6" lengthAdjust="spacingAndGlyphs">40</text>
<line x1="249.4" y1="343.3" x2="249.4" y2="346.1" stroke="#404040" stroke-width="1"/>
<line x1="265.5" y1="343.3" x2="265.5" y2="346.1" stroke="#404040" stroke-width="1"/>
<line x1="281.6" y1="343.3" x2="281.6" y2="346.1" stroke="#404040" stroke-width="1"/>
<line x1="297.7" y1="343.3" x2="297.7" y2="346.1" stroke="#404040" stroke-width="1"/>
<text x="274.1" y="229.7" font-size="10.2" fill="#2a2a2a" stroke="#2a2a2a" stroke-width="0.12" text-anchor="middle" textLength="26" lengthAdjust="spacingAndGlyphs">#5282</text>
<text x="218.6" y="289.1" font-size="8.8" fill="#363636" stroke="#363636" stroke-width="0.12" text-anchor="middle" textLength="75.8" lengthAdjust="spacingAndGlyphs" transform="rotate(-90 218.6 289.1)">Engraftment in BM (%)</text>
<circle cx="249.5" cy="253.54" r="2.3" fill="none" stroke="#5e2d72" stroke-width="1.05"/>
<circle cx="249.5" cy="261.72" r="2.3" fill="none" stroke="#5e2d72" stroke-width="1.05"/>
<circle cx="249.5" cy="269.64" r="2.3" fill="none" stroke="#5e2d72" stroke-width="1.05"/>
<circle cx="249.5" cy="275.19" r="2.3" fill="none" stroke="#5e2d72" stroke-width="1.05"/>
<circle cx="265.8" cy="285.22" r="2.3" fill="none" stroke="#1b3b62" stroke-width="1.05"/>
<circle cx="265.8" cy="299.48" r="2.3" fill="none" stroke="#1b3b62" stroke-width="1.05"/>
<circle cx="269.1" cy="303.96" r="2.3" fill="none" stroke="#1b3b62" stroke-width="1.05"/>
<circle cx="262.4" cy="306.6" r="2.3" fill="none" stroke="#1b3b62" stroke-width="1.05"/>
<circle cx="282.2" cy="303.96" r="2.3" fill="none" stroke="#3a9cc4" stroke-width="1.05"/>
<circle cx="278.4" cy="314.26" r="2.3" fill="none" stroke="#3a9cc4" stroke-width="1.05"/>
<circle cx="285.3" cy="317.16" r="2.3" fill="none" stroke="#3a9cc4" stroke-width="1.05"/>
<circle cx="278.4" cy="319.8" r="2.3" fill="none" stroke="#3a9cc4" stroke-width="1.05"/>
<line x1="244" y1="265.42" x2="255.2" y2="265.42" stroke="#222" stroke-width="1.1"/>
<line x1="260.2" y1="301.06" x2="270.6" y2="301.06" stroke="#222" stroke-width="1.1"/>
<line x1="276.2" y1="315.84" x2="287.4" y2="315.84" stroke="#222" stroke-width="1.1"/>
<circle cx="295.5" cy="340.92" r="1.9" fill="none" stroke="#999" stroke-width="0.8"/>
<circle cx="299" cy="340.13" r="1.9" fill="none" stroke="#999" stroke-width="0.8"/>
<circle cx="302" cy="341.19" r="1.9" fill="none" stroke="#999" stroke-width="0.8"/>
<circle cx="297.5" cy="342.24" r="1.9" fill="none" stroke="#999" stroke-width="0.8"/>
<text x="251.9" y="352.6" font-size="8.4" fill="#363636" stroke="#363636" stroke-width="0.12" text-anchor="end" textLength="63.6" lengthAdjust="spacingAndGlyphs" transform="rotate(-45 251.9 352.6)">Scrambled DMSO</text>
<text x="268.6" y="352.6" font-size="8.4" fill="#363636" stroke="#363636" stroke-width="0.12" text-anchor="end" textLength="54.6" lengthAdjust="spacingAndGlyphs" transform="rotate(-45 268.6 352.6)">Scrambled ATRi</text>
<text x="285.2" y="352.6" font-size="8.4" fill="#363636" stroke="#363636" stroke-width="0.12" text-anchor="end" textLength="66.8" lengthAdjust="spacingAndGlyphs" transform="rotate(-45 285.2 352.6)">shPIWIL4-A DMSO</text>
<text x="301.1" y="352.6" font-size="8.4" fill="#363636" stroke="#363636" stroke-width="0.12" text-anchor="end" textLength="58.2" lengthAdjust="spacingAndGlyphs" transform="rotate(-45 301.1 352.6)">shPIWIL4-A ATRi</text>
<line x1="357.3" y1="244.3" x2="357.3" y2="343.7" stroke="#404040" stroke-width="1.2"/>
<line x1="356.7" y1="343.1" x2="508.2" y2="343.1" stroke="#404040" stroke-width="1.2"/>
<line x1="354.5" y1="343.1" x2="357.3" y2="343.1" stroke="#404040" stroke-width="1"/>
<text x="351.7" y="346" font-size="8.3" fill="#363636" stroke="#363636" stroke-width="0.12" text-anchor="end" textLength="4.3" lengthAdjust="spacingAndGlyphs">0</text>
<line x1="354.5" y1="297.9" x2="357.3" y2="297.9" stroke="#404040" stroke-width="1"/>
<text x="351.7" y="300.8" font-size="8.3" fill="#363636" stroke="#363636" stroke-width="0.12" text-anchor="end" textLength="8.6" lengthAdjust="spacingAndGlyphs">50</text>
<line x1="354.5" y1="252.7" x2="357.3" y2="252.7" stroke="#404040" stroke-width="1"/>
<text x="351.7" y="255.6" font-size="8.3" fill="#363636" stroke="#363636" stroke-width="0.12" text-anchor="end" textLength="12.9" lengthAdjust="spacingAndGlyphs">100</text>
<line x1="357.3" y1="343.1" x2="357.3" y2="345.9" stroke="#404040" stroke-width="1"/>
<text x="357.3" y="356.6" font-size="8.3" fill="#363636" stroke="#363636" stroke-width="0.12" text-anchor="middle" textLength="4.3" lengthAdjust="spacingAndGlyphs">0</text>
<line x1="387.24" y1="343.1" x2="387.24" y2="345.9" stroke="#404040" stroke-width="1"/>
<text x="387.24" y="356.6" font-size="8.3" fill="#363636" stroke="#363636" stroke-width="0.12" text-anchor="middle" textLength="8.6" lengthAdjust="spacingAndGlyphs">20</text>
<line x1="417.18" y1="343.1" x2="417.18" y2="345.9" stroke="#404040" stroke-width="1"/>
<text x="417.18" y="356.6" font-size="8.3" fill="#363636" stroke="#363636" stroke-width="0.12" text-anchor="middle" textLength="8.6" lengthAdjust="spacingAndGlyphs">40</text>
<line x1="447.12" y1="343.1" x2="447.12" y2="345.9" stroke="#404040" stroke-width="1"/>
<text x="447.12" y="356.6" font-size="8.3" fill="#363636" stroke="#363636" stroke-width="0.12" text-anchor="middle" textLength="8.6" lengthAdjust="spacingAndGlyphs">60</text>
<line x1="477.06" y1="343.1" x2="477.06" y2="345.9" stroke="#404040" stroke-width="1"/>
<text x="477.06" y="356.6" font-size="8.3" fill="#363636" stroke="#363636" stroke-width="0.12" text-anchor="middle" textLength="8.6" lengthAdjust="spacingAndGlyphs">80</text>
<line x1="507" y1="343.1" x2="507" y2="345.9" stroke="#404040" stroke-width="1"/>
<text x="507" y="356.6" font-size="8.3" fill="#363636" stroke="#363636" stroke-width="0.12" text-anchor="middle" textLength="12.9" lengthAdjust="spacingAndGlyphs">100</text>
<text x="333.2" y="292.5" font-size="8.4" fill="#363636" stroke="#363636" stroke-width="0.12" text-anchor="middle" textLength="54" lengthAdjust="spacingAndGlyphs" transform="rotate(-90 333.2 292.5)">Percent survival</text>
<text x="433.5" y="369" font-size="8.4" fill="#363636" stroke="#363636" stroke-width="0.12" text-anchor="middle" textLength="83" lengthAdjust="spacingAndGlyphs">Days post transplantation</text>
<text x="474.6" y="320.3" font-size="8.4" fill="#333" textLength="32.3" lengthAdjust="spacingAndGlyphs"><tspan font-style="italic">P</tspan> &lt; .0001</text>
<path d="M357.3,252.7 L438.44,252.7 L438.44,275.3 L459.1,275.3 L459.1,343.1" stroke="#4aaee0" stroke-width="1.5" fill="none"/>
<path d="M438.44,252.7 L484.25,252.7 L484.25,297.9 L507,297.9" stroke="#8fb2cc" stroke-width="1" fill="none" stroke-dasharray="2.8,2.4"/>
<path d="M357.3,252.7 L405.2,252.7 L405.2,275.3 L409.69,275.3 L409.69,320.5 L411.19,320.5 L411.19,343.1" stroke="#b3123c" stroke-width="1.4" fill="none"/>
<path d="M405.2,252.7 L411.19,252.7 L411.19,275.3 L424.67,275.3 L424.67,297.9 L430.65,297.9 L430.65,343.1" stroke="#9c1636" stroke-width="1.2" fill="none" stroke-dasharray="2.5,1.6"/>
<circle cx="405.2" cy="275.3" r="0.9" fill="#111" stroke="none" stroke-width="1"/>
<circle cx="411.19" cy="275.3" r="0.9" fill="#111" stroke="none" stroke-width="1"/>
<circle cx="409.69" cy="320.5" r="0.9" fill="#111" stroke="none" stroke-width="1"/>
<circle cx="424.67" cy="297.9" r="0.9" fill="#111" stroke="none" stroke-width="1"/>
<circle cx="438.44" cy="252.7" r="0.9" fill="#111" stroke="none" stroke-width="1"/>
<circle cx="438.44" cy="275.3" r="0.9" fill="#111" stroke="none" stroke-width="1"/>
<circle cx="484.25" cy="297.9" r="0.9" fill="#111" stroke="none" stroke-width="1"/>
<circle cx="411.19" cy="252.7" r="0.9" fill="#111" stroke="none" stroke-width="1"/>
<path d="M468.98,250.8 L470.18,253 L467.78,253 Z" stroke="none" stroke-width="1" fill="#111"/>
<path d="M458.65,250.8 L459.85,253 L457.45,253 Z" stroke="none" stroke-width="1" fill="#111"/>
<path d="M507,296 L508.2,298.2 L505.8,298.2 Z" stroke="none" stroke-width="1" fill="#111"/>
<line x1="380.7" y1="386.1" x2="392" y2="386.1" stroke="#8e1838" stroke-width="1"/>
<path d="M386.3,383.94 L387.74,386.58 L384.86,386.58 Z" stroke="none" stroke-width="1" fill="#111"/>
<text x="394.8" y="387.4" font-size="8" fill="#363636" stroke="#363636" stroke-width="0.12" textLength="66.8" lengthAdjust="spacingAndGlyphs">SCR - DMSO (n = 4)</text>
<line x1="380.7" y1="397.05" x2="392" y2="397.05" stroke="#a01a3a" stroke-width="1.2" stroke-dasharray="1.6,3.6"/>
<path d="M386.3,394.89 L387.74,397.53 L384.86,397.53 Z" stroke="none" stroke-width="1" fill="#111"/>
<text x="394.8" y="398.35" font-size="8" fill="#363636" stroke="#363636" stroke-width="0.12" textLength="59.4" lengthAdjust="spacingAndGlyphs">SCR - ATRi (n = 4)</text>
<line x1="380.7" y1="408" x2="392" y2="408" stroke="#5aaee0" stroke-width="1"/>
<path d="M386.3,405.84 L387.74,408.48 L384.86,408.48 Z" stroke="none" stroke-width="1" fill="#111"/>
<text x="394.8" y="409.3" font-size="8" fill="#363636" stroke="#363636" stroke-width="0.12" textLength="91.1" lengthAdjust="spacingAndGlyphs">shPIWIL4-A - DMSO (n = 4)</text>
<line x1="380.7" y1="418.95" x2="392" y2="418.95" stroke="#8fb2cc" stroke-width="1.2" stroke-dasharray="1.6,3.6"/>
<path d="M386.3,416.79 L387.74,419.43 L384.86,419.43 Z" stroke="none" stroke-width="1" fill="#111"/>
<text x="394.8" y="420.25" font-size="8" fill="#363636" stroke="#363636" stroke-width="0.12" textLength="89.9" lengthAdjust="spacingAndGlyphs">shPIWIL4-A - ATRi (n = 2/4)</text>
</svg>
</body></html>
